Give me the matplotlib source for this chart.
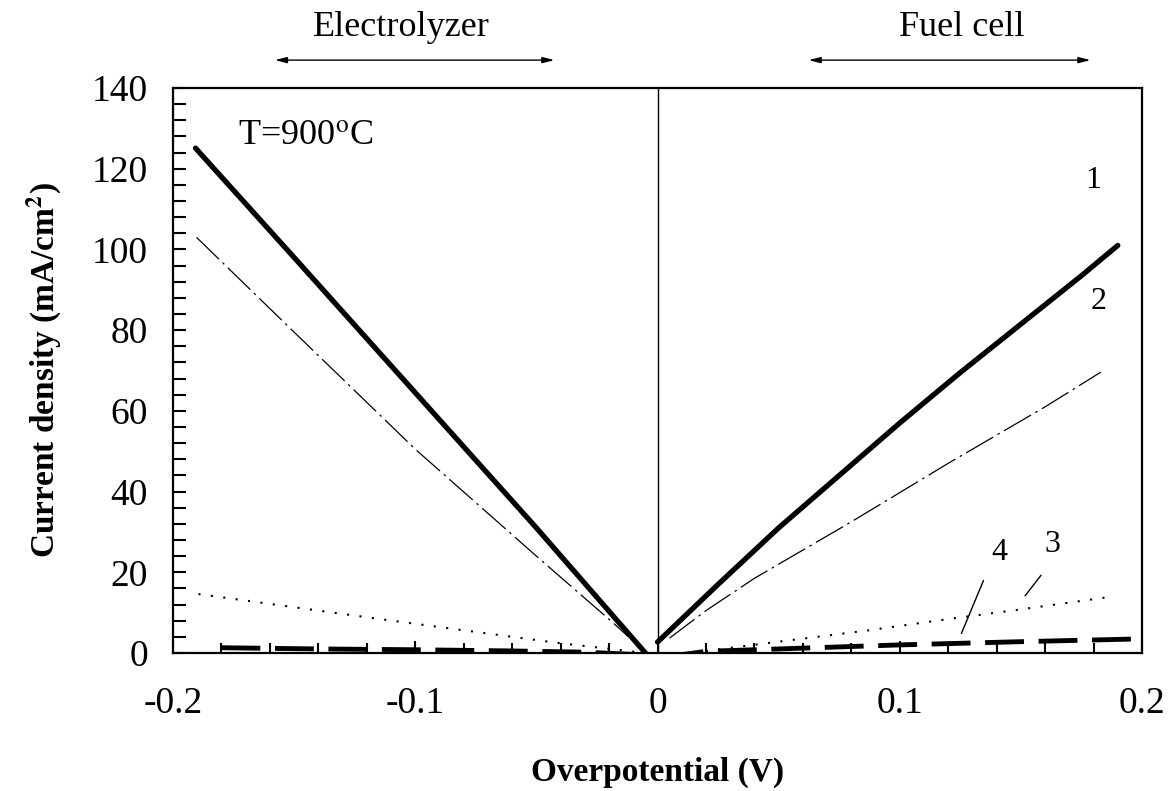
import matplotlib
matplotlib.use("Agg")
import matplotlib.pyplot as plt
from matplotlib.ticker import MultipleLocator

plt.rcParams['font.family'] = ['Liberation Serif', 'DejaVu Serif']
plt.rcParams['mathtext.fontset'] = 'stix'

# curve 1 (thick solid)
c1_left_x = [-0.1907, -0.15, -0.1, -0.05, -0.005]
c1_left_y = [125.1, 98.0, 64.5, 31.0, 0.0]
c1_right_x = [0.0, 0.025, 0.05, 0.075, 0.1, 0.125, 0.15, 0.175, 0.19]
c1_right_y = [2.7, 17.0, 31.0, 44.0, 57.0, 69.5, 81.5, 93.5, 101.0]

# curve 2 (thin dash-dot)
c2_left_x = [-0.1903, -0.15, -0.1, -0.05, -0.0182, -0.012]
c2_left_y = [103.0, 79.5, 50.5, 24.0, 7.4, 4.0]
c2_right_x = [0.005, 0.02, 0.04, 0.08, 0.12, 0.16, 0.183]
c2_right_y = [3.7, 10.5, 18.5, 32.5, 47.0, 61.0, 69.6]

# curve 3 (dotted)
c3_left_x = [-0.1895, -0.1145, -0.0413, -0.008]
c3_left_y = [14.6, 8.4, 2.5, 0.2]
c3_right_x = [0.02, 0.05, 0.087, 0.12, 0.15, 0.188]
c3_right_y = [0.5, 2.8, 5.6, 8.4, 10.8, 14.0]

# curve 4 (thick dashed)
c4_left_x = [-0.18, -0.14, -0.1, -0.06, -0.03, -0.005]
c4_left_y = [1.3, 1.0, 0.8, 0.5, 0.2, -0.5]
c4_right_x = [0.003, 0.02, 0.05, 0.1, 0.15, 0.2]
c4_right_y = [-1.0, 0.4, 1.0, 2.0, 2.8, 3.5]

fig = plt.figure(figsize=(11.73, 7.91), dpi=100)
ax = fig.add_axes([0.1475, 0.1745, 0.8261, 0.7142])

for xs, ys in [(c1_left_x, c1_left_y), (c1_right_x, c1_right_y)]:
    ax.plot(xs, ys, color='black', lw=3.8, solid_capstyle='round')
for xs, ys in [(c2_left_x, c2_left_y), (c2_right_x, c2_right_y)]:
    ax.plot(xs, ys, color='black', lw=0.9, linestyle=(0, (25, 4, 2, 4)))
for xs, ys in [(c3_left_x, c3_left_y), (c3_right_x, c3_right_y)]:
    ax.plot(xs, ys, color='black', lw=1.5, linestyle=(0, (1, 5)))
for xs, ys in [(c4_left_x, c4_left_y), (c4_right_x, c4_right_y)]:
    ax.plot(xs, ys, color='black', lw=3.5, linestyle=(0, (8, 3)))

ax.axvline(0, color='black', lw=1.0)

ax.set_xlim(-0.2, 0.2)
ax.set_ylim(0, 140)
ax.set_xticks([-0.2, -0.1, 0, 0.1, 0.2])
ax.set_xticklabels(['-0.2', '-0.1', '0', '0.1', '0.2'])
ax.xaxis.set_minor_locator(MultipleLocator(0.02))
ax.yaxis.set_major_locator(MultipleLocator(20))
ax.yaxis.set_minor_locator(MultipleLocator(4))
ax.tick_params(axis='both', which='both', direction='in', width=1.5,
               top=False, right=False, labelsize=27)
ax.tick_params(axis='y', which='both', length=9, pad=18)
ax.tick_params(axis='x', which='major', length=9, pad=24)
ax.tick_params(axis='x', which='minor', length=7)
for sp in ax.spines.values():
    sp.set_linewidth(1.6)

ax.set_xlabel('Overpotential (V)', fontsize=24, fontweight='bold', labelpad=26)
ax.set_ylabel('Current density (mA/cm$^\\mathbf{2}$)', fontsize=24,
              fontweight='bold', labelpad=20)

ax.text(-0.173, 128, 'T=900$^\\mathrm{o}$C', fontsize=26, va='center', ha='left')

ax.text(0.180, 117, '1', fontsize=23, ha='center', va='center')
ax.text(0.182, 87, '2', fontsize=23, ha='center', va='center')
ax.text(0.163, 27, '3', fontsize=23, ha='center', va='center')
ax.text(0.141, 24.8, '4', fontsize=23, ha='center', va='center')
ax.annotate('', xy=(0.125, 4.2), xytext=(0.135, 18.6),
            arrowprops=dict(arrowstyle='-', lw=1.0, color='black'))
ax.annotate('', xy=(0.151, 13.6), xytext=(0.159, 19.8),
            arrowprops=dict(arrowstyle='-', lw=1.0, color='black'))

fig.text(0.342, 0.965, 'Electrolyzer', fontsize=26, ha='center', va='center')
fig.text(0.820, 0.965, 'Fuel cell', fontsize=26, ha='center', va='center')
for x0, x1 in [(0.232, 0.475), (0.687, 0.932)]:
    fig.add_artist(plt.matplotlib.patches.FancyArrowPatch(
        (x0, 0.924), (x1, 0.924), transform=fig.transFigure,
        arrowstyle='<|-|>,head_length=7,head_width=1.8', lw=1.0, color='black'))

fig.savefig('out.png', dpi=100, facecolor='white')
